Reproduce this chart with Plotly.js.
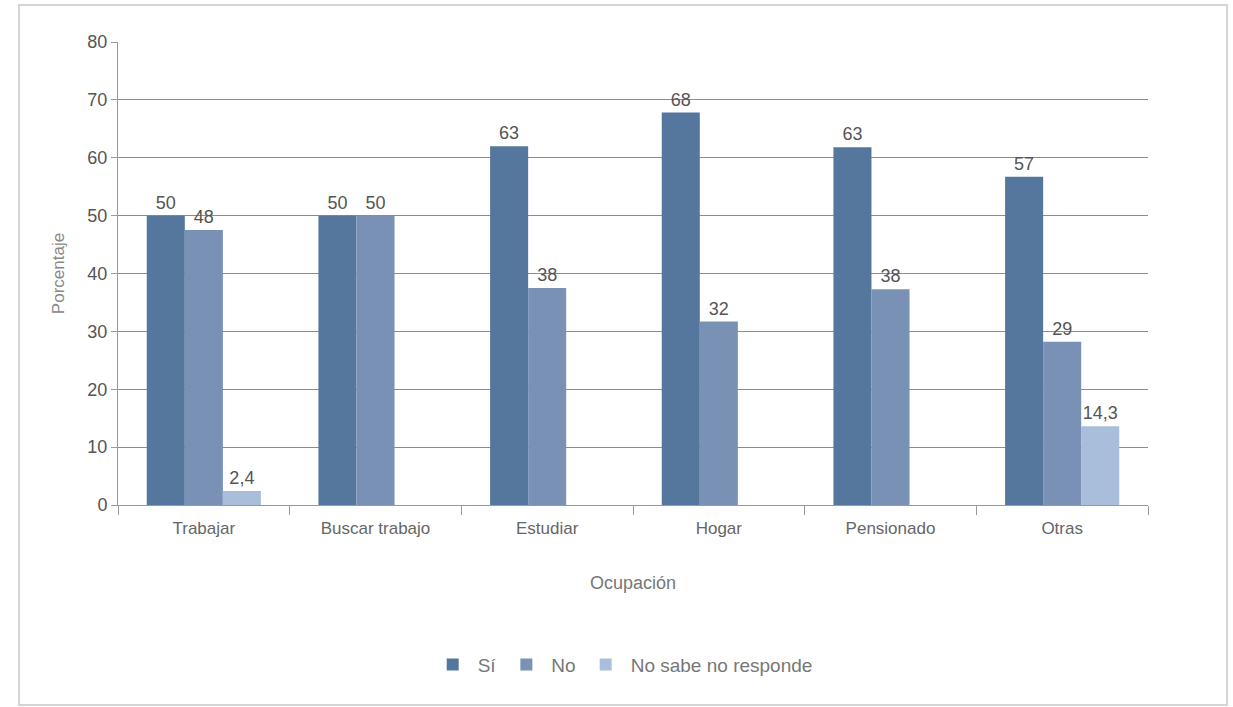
<!DOCTYPE html>
<html>
<head>
<meta charset="utf-8">
<script src="https://cdn.plot.ly/plotly-3.0.1.min.js"></script>
<style>
html,body{margin:0;padding:0;background:#fff;}
#frame{position:absolute;left:18px;top:4px;width:1210px;height:702px;border:2px solid #d4d4d4;box-sizing:border-box;}
#chart{position:absolute;left:0;top:0;width:1233px;height:707px;}
</style>
</head>
<body>
<div id="frame"></div>
<div id="chart"></div>
<script>
const categories = ["Trabajar", "Buscar trabajo", "Estudiar", "Hogar", "Pensionado", "Otras"];
const siValues = [50, 50, 62, 67.8, 61.8, 56.7];
const noValues = [47.5, 50, 37.5, 31.7, 37.3, 28.2];
const nsnrValues = [2.4, null, null, null, null, 13.6];
const siLabels = ["50", "50", "63", "68", "63", "57"];
const noLabels = ["48", "50", "38", "32", "38", "29"];
const nsnrLabels = ["2,4", "", "", "", "", "14,3"];
const yTicks = [0, 10, 20, 30, 40, 50, 60, 70, 80];

const labelFont = {family: "Liberation Sans, Arial, sans-serif", size: 18, color: "#555"};
function mk(name, y, text, color) {
  return {
    type: "bar", name: name, x: categories, y: y, text: text,
    textposition: "outside", textfont: labelFont, cliponaxis: false,
    marker: {color: color}, hoverinfo: "skip"
  };
}
const data = [
  mk("Sí", siValues, siLabels, "#56779d"),
  mk("No", noValues, noLabels, "#7891b4"),
  mk("No sabe no responde", nsnrValues, nsnrLabels, "#a9bedb")
];
const layout = {
  width: 1233, height: 707,
  margin: {l: 118, r: 85, t: 42, b: 202},
  paper_bgcolor: "rgba(0,0,0,0)", plot_bgcolor: "#fff",
  barmode: "group", bargap: 0.335, bargroupgap: 0,
  font: {family: "Liberation Sans, Arial, sans-serif", color: "#666"},
  xaxis: {
    showline: true, linecolor: "#999", linewidth: 1,
    ticks: "outside", tickson: "boundaries", ticklen: 9, tickcolor: "#999",
    ticklabelstandoff: 8,
    tickfont: {size: 17, color: "#666"},
    title: {text: "Ocupación", font: {size: 18, color: "#777"}, standoff: 38}
  },
  yaxis: {
    range: [0, 80], tickvals: yTicks, showgrid: true, gridcolor: "#8c8c8c", gridwidth: 1,
    showline: true, linecolor: "#999", ticks: "outside", ticklen: 6, tickcolor: "#999",
    tickfont: {size: 18, color: "#555"}, zeroline: false,
    title: {text: "Porcentaje", font: {size: 17, color: "#888"}, standoff: 18}
  },
  legend: {
    orientation: "h", x: 0.49, xanchor: "center", y: -0.345, yanchor: "middle",
    font: {size: 19, color: "#777"}, itemwidth: 40, traceorder: "normal"
  },
  showlegend: true
};
Plotly.newPlot("chart", data, layout, {displayModeBar: false, staticPlot: true});
</script>
</body>
</html>
